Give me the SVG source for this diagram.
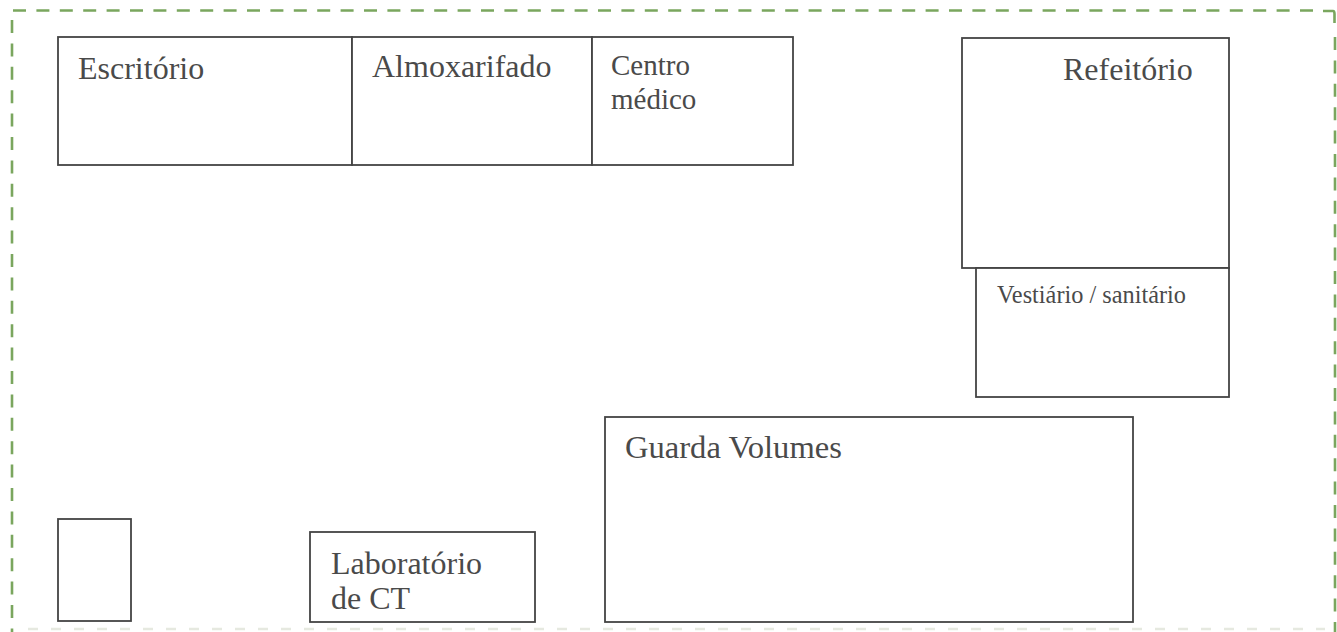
<svg xmlns="http://www.w3.org/2000/svg" width="1337" height="632" viewBox="0 0 1337 632">
<style>
.r{fill:#fff;stroke:#444;stroke-width:1.8}
.t{font-family:"Liberation Serif",serif;fill:#4a4a4a}
.b{fill:none;stroke:#7aa65e;stroke-width:2.6;stroke-dasharray:13 10.4}
.f{fill:none;stroke:#e6e9e0;stroke-width:2.5;stroke-dasharray:10 13}
.l{font-size:32px}.g{font-size:32.6px}.m{font-size:29px}.s{font-size:24.3px}
</style>
<rect width="1337" height="632" fill="#fff"/>
<g id="boundary">
<path class="b" d="M13 10.500H1322"/>
<path class="b" style="stroke-dasharray:none" d="M1323 11H1333Q1334.500 11 1334.500 14V23"/>
<path class="b" d="M1335 37V632"/>
<path class="b" d="M12 20V632"/>
<path class="f" d="M28 629H1325"/>
</g>
<g id="escritorio"><rect class="r" x="58" y="37" width="294" height="128"/><text class="t l" x="78" y="78.500">Escritório</text></g>
<g id="almoxarifado"><rect class="r" x="352" y="37" width="240" height="128"/><text class="t l" x="372" y="77">Almoxarifado</text></g>
<g id="centro"><rect class="r" x="592" y="37" width="201" height="128"/><text class="t m" x="611" y="74.500">Centro</text><text class="t m" x="611" y="109">médico</text></g>
<g id="refeitorio"><rect class="r" x="962" y="38" width="267" height="230"/><text class="t l" x="1063" y="80">Refeitório</text></g>
<g id="vestiario"><rect class="r" x="976" y="268" width="253" height="129"/><text class="t s" x="997" y="303">Vestiário / sanitário</text></g>
<g id="guarda"><rect class="r" x="605" y="417" width="528" height="205"/><text class="t g" x="625" y="457.500">Guarda Volumes</text></g>
<g id="pequeno"><rect class="r" x="58" y="519" width="73" height="102"/></g>
<g id="laboratorio"><rect class="r" x="310" y="532" width="225" height="90"/><text class="t l" x="331" y="574">Laboratório</text><text class="t l" x="331" y="609">de CT</text></g>
</svg>
